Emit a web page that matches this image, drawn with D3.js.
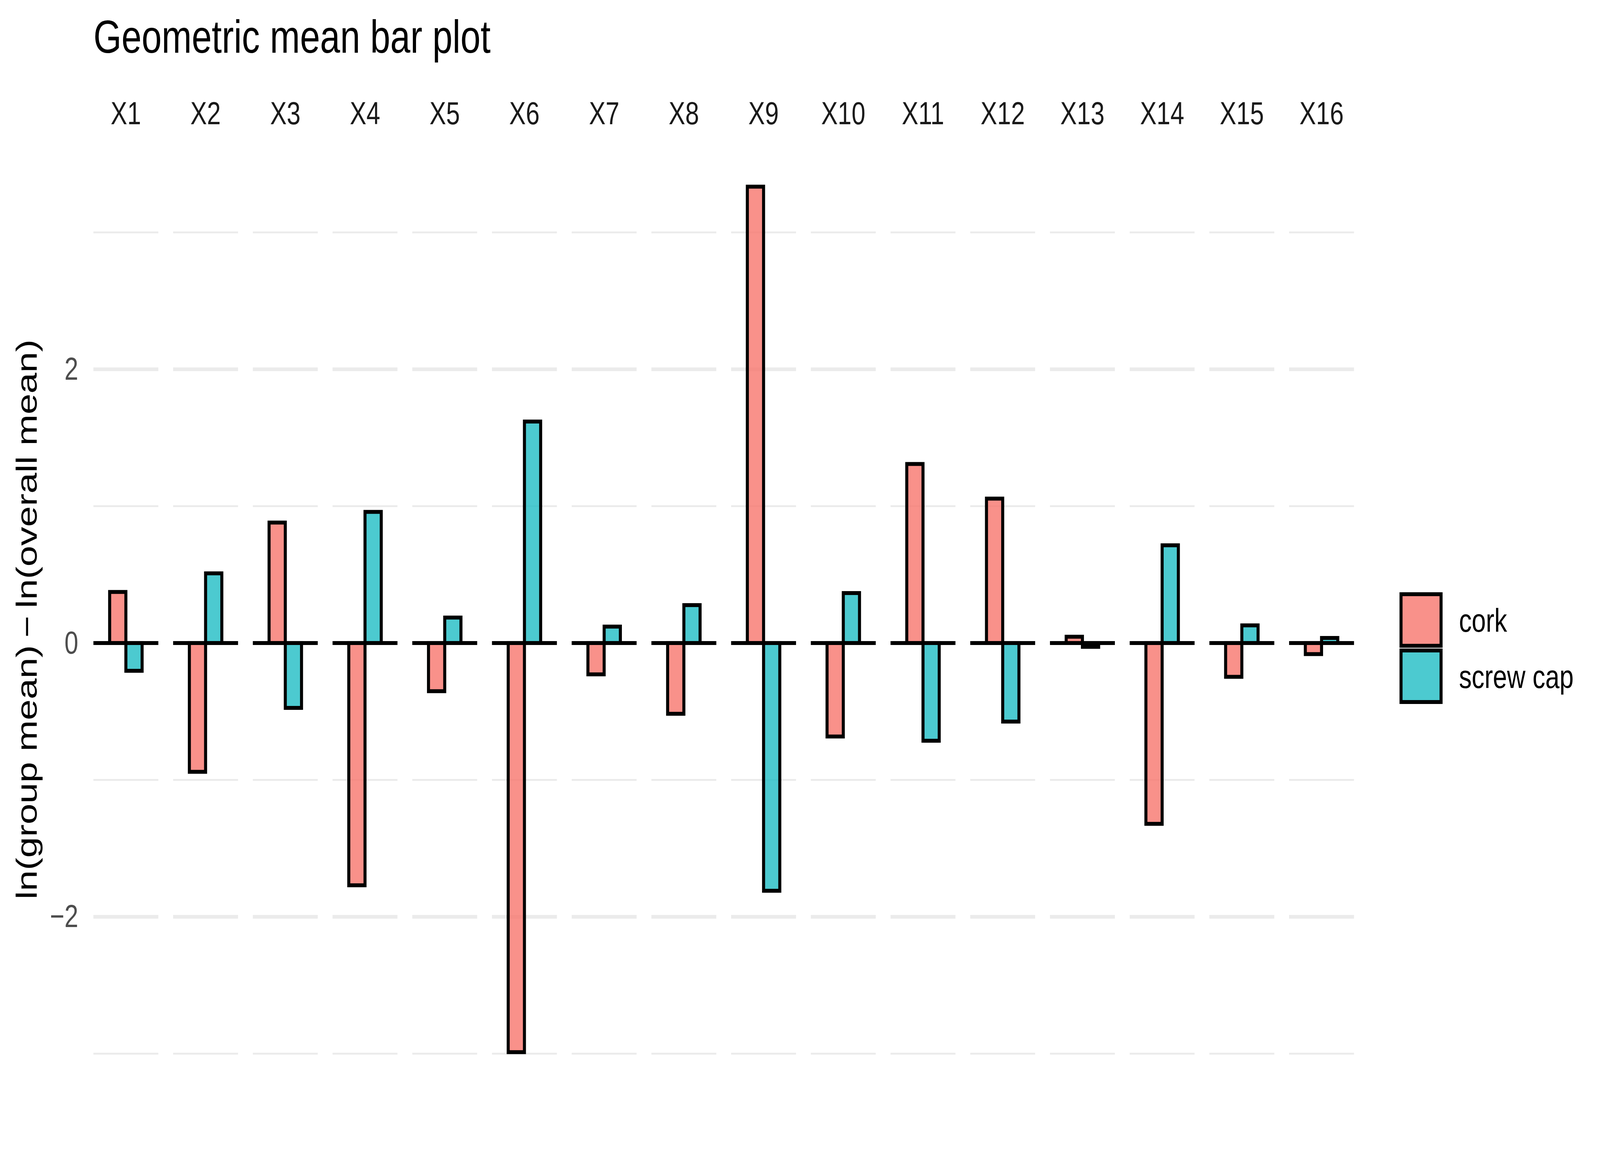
<!DOCTYPE html>
<html>
<head>
<meta charset="utf-8">
<script src="https://cdn.jsdelivr.net/npm/d3@7"></script>
<style>
  html, body { margin: 0; padding: 0; background: #fff; overflow: hidden; }
  #chart svg { display: block; width: 100vw; height: 100vh; }
  text { font-family: "Liberation Sans", Arial, sans-serif; }
</style>
</head>
<body>
<div id="chart"></div>
<script>
// data
const variables = ["X1","X2","X3","X4","X5","X6","X7","X8","X9","X10","X11","X12","X13","X14","X15","X16"];
const groups = ["cork", "screw cap"];
const corkValues = [0.373, -0.941, 0.880, -1.770, -0.352, -2.989, -0.229, -0.517, 3.334, -0.683, 1.308, 1.055, 0.046, -1.321, -0.247, -0.081];
const screwValues = [-0.203, 0.509, -0.474, 0.958, 0.186, 1.618, 0.120, 0.277, -1.810, 0.365, -0.714, -0.574, -0.028, 0.714, 0.129, 0.037];
const majorTicks = [-2, 0, 2];
const minorTicks = [-3, -1, 1, 3];
const colors = ["#F8766D", "#1FBDC4"];

const W = 5275, H = 3000;
const plot = { left: 308, right: 4464, top: 367, bottom: 2804 };

const rows = [];
variables.forEach((v, i) => {
  rows.push({ variable: v, group: groups[0], value: corkValues[i] });
  rows.push({ variable: v, group: groups[1], value: screwValues[i] });
});

// drawn in a 5275x3000 box, stretched to fill the window
const svg = d3.select("#chart").append("svg")
  .attr("viewBox", `0 0 ${W} ${H}`)
  .attr("preserveAspectRatio", "none");

// panels
const x = d3.scaleBand()
  .domain(variables)
  .range([plot.left, plot.right])
  .paddingInner(0.1857)
  .paddingOuter(0);
const bw = x.bandwidth();

// dodge inside a panel: total width 0.6 of a 1.2 wide panel
const xInner = d3.scaleBand()
  .domain(groups)
  .range([bw * 0.25, bw * 0.75]);

const ext = d3.extent(rows, d => d.value);
const pad = (ext[1] - ext[0]) * 0.05;
const y = d3.scaleLinear()
  .domain([ext[0] - pad, ext[1] + pad])
  .range([plot.bottom, plot.top]);

const color = d3.scaleOrdinal().domain(groups).range(colors);

// title
svg.append("text")
  .attr("x", plot.left)
  .attr("y", 135)
  .style("font-size", "119px")
  .style("fill", "black")
  .text("Geometric mean bar plot");

// strip labels
svg.append("g")
  .attr("transform", "translate(0,318)")
  .call(d3.axisTop(x).tickSize(0).tickPadding(0))
  .call(g => g.select(".domain").remove())
  .selectAll("text")
    .attr("dy", "0")
    .style("font-size", "82px")
    .style("font-family", "'Liberation Sans', Arial, sans-serif")
    .style("fill", "#1A1A1A");

// y axis labels
svg.append("g")
  .attr("transform", `translate(${plot.left},0)`)
  .call(d3.axisLeft(y).tickValues(majorTicks).tickFormat(d3.format("d")).tickSize(0).tickPadding(50))
  .call(g => g.select(".domain").remove())
  .selectAll("text")
    .style("font-size", "82px")
    .style("font-family", "'Liberation Sans', Arial, sans-serif")
    .style("fill", "#4D4D4D");

// y axis title
svg.append("text")
  .attr("transform", `translate(121,${(plot.top + plot.bottom) / 2}) rotate(-90)`)
  .attr("text-anchor", "middle")
  .style("font-size", "96px")
  .style("fill", "black")
  .text("ln(group mean)\u2009\u2212\u2009ln(overall mean)");

const panels = svg.append("g")
  .selectAll("g")
  .data(variables)
  .join("g")
    .attr("transform", d => `translate(${x(d)},0)`);

// grid lines per panel
panels.selectAll("line.minor")
  .data(minorTicks)
  .join("line")
    .attr("class", "minor")
    .attr("x1", 0).attr("x2", bw)
    .attr("y1", d => y(d)).attr("y2", d => y(d))
    .attr("stroke", "#EBEBEB")
    .attr("stroke-width", 4.7);

panels.selectAll("line.major")
  .data(majorTicks)
  .join("line")
    .attr("class", "major")
    .attr("x1", 0).attr("x2", bw)
    .attr("y1", d => y(d)).attr("y2", d => y(d))
    .attr("stroke", "#EBEBEB")
    .attr("stroke-width", 9.4);

// bars
panels.selectAll("rect")
  .data(v => rows.filter(r => r.variable === v))
  .join("rect")
    .attr("x", d => xInner(d.group))
    .attr("width", xInner.bandwidth())
    .attr("y", d => y(Math.max(0, d.value)))
    .attr("height", d => Math.abs(y(d.value) - y(0)))
    .attr("fill", d => color(d.group))
    .attr("fill-opacity", 0.8)
    .attr("stroke", "black")
    .attr("stroke-width", 10);

// zero line
panels.append("line")
  .attr("x1", 0).attr("x2", bw)
  .attr("y1", y(0)).attr("y2", y(0))
  .attr("stroke", "black")
  .attr("stroke-width", 10);

// legend
const legend = svg.append("g")
  .selectAll("g")
  .data(groups)
  .join("g")
    .attr("transform", (d, i) => `translate(4619,${1521 + i * 144})`);

legend.append("rect")
  .attr("width", 132)
  .attr("height", 132)
  .attr("fill", d => color(d))
  .attr("fill-opacity", 0.8)
  .attr("stroke", "black")
  .attr("stroke-width", 10);

legend.append("text")
  .attr("x", 191)
  .attr("y", 96)
  .style("font-size", "84px")
  .style("fill", "black")
  .text(d => d);
</script>
</body>
</html>
